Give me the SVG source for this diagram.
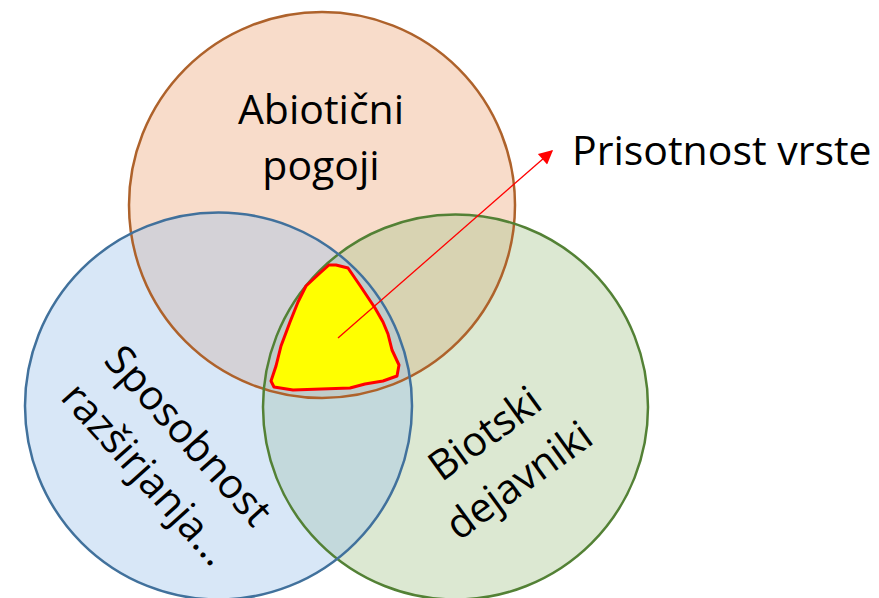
<svg xmlns="http://www.w3.org/2000/svg" width="879" height="598" viewBox="0 0 879 598">
  <style>
    .lbl { font-family: "Open Sans", "Liberation Sans", sans-serif; font-size: 41px; fill: #000; text-anchor: middle; }
    .fillc { fill-opacity: 0.4; stroke: none; }
    .ring { fill: none; stroke-width: 2.5; }
  </style>
  <defs>
    <marker id="arr" viewBox="0 0 10 10" refX="9" refY="5" markerWidth="16" markerHeight="14" markerUnits="userSpaceOnUse" orient="auto">
      <path d="M0,0 L10,5 L0,10 z" fill="#FF0000"/>
    </marker>
  </defs>
  <rect width="879" height="598" fill="#FFFFFF"/>
  <g id="fills">
    <circle class="fillc" cx="322" cy="205" r="193" fill="#EDA77A"/>
    <circle class="fillc" cx="455.5" cy="407" r="192.5" fill="#A8C68E"/>
    <circle class="fillc" cx="218.5" cy="406" r="193.5" fill="#9EC2EA"/>
  </g>
  <g id="abiotic">
    <circle class="ring" cx="322" cy="205" r="193" stroke="#AE622B"/>
    <text class="lbl" x="321" y="124">Abiotični</text>
    <text class="lbl" x="321" y="180">pogoji</text>
  </g>
  <g id="biotic">
    <circle class="ring" cx="455.5" cy="407" r="192.5" stroke="#538135"/>
    <g transform="translate(493,445) rotate(-36)">
      <text class="lbl" x="0" y="0">Biotski</text>
      <text class="lbl" x="0" y="58">dejavniki</text>
    </g>
  </g>
  <g id="dispersal">
    <circle class="ring" cx="218.5" cy="406" r="193.5" stroke="#41719C"/>
    <g transform="translate(178,445) rotate(48)">
      <text class="lbl" x="0" y="0">Sposobnost</text>
      <text class="lbl" x="0" y="57">razširjanja…</text>
    </g>
  </g>
  <g id="presence">
    <path d="M336,265 L348,268 L361,287 L375,308 L383,322 L388,334 L392,350 L399,365 L397,376 L383,381 L365,384 L350,388 L293,390 L274,387 L271,381 L276,366 L281,346 L290,322 L298,302 L306,286 L320,273 L329,265 Z" fill="#FFFF00" stroke="#FF0000" stroke-width="3" stroke-linejoin="round"/>
    <text x="572" y="165" font-family="Open Sans, Liberation Sans, sans-serif" font-size="41" fill="#000">Prisotnost vrste</text>
  </g>
  <g id="connectors">
    <line x1="338" y1="338" x2="552" y2="151" stroke="#FF0000" stroke-width="1.3" marker-end="url(#arr)"/>
  </g>
</svg>
